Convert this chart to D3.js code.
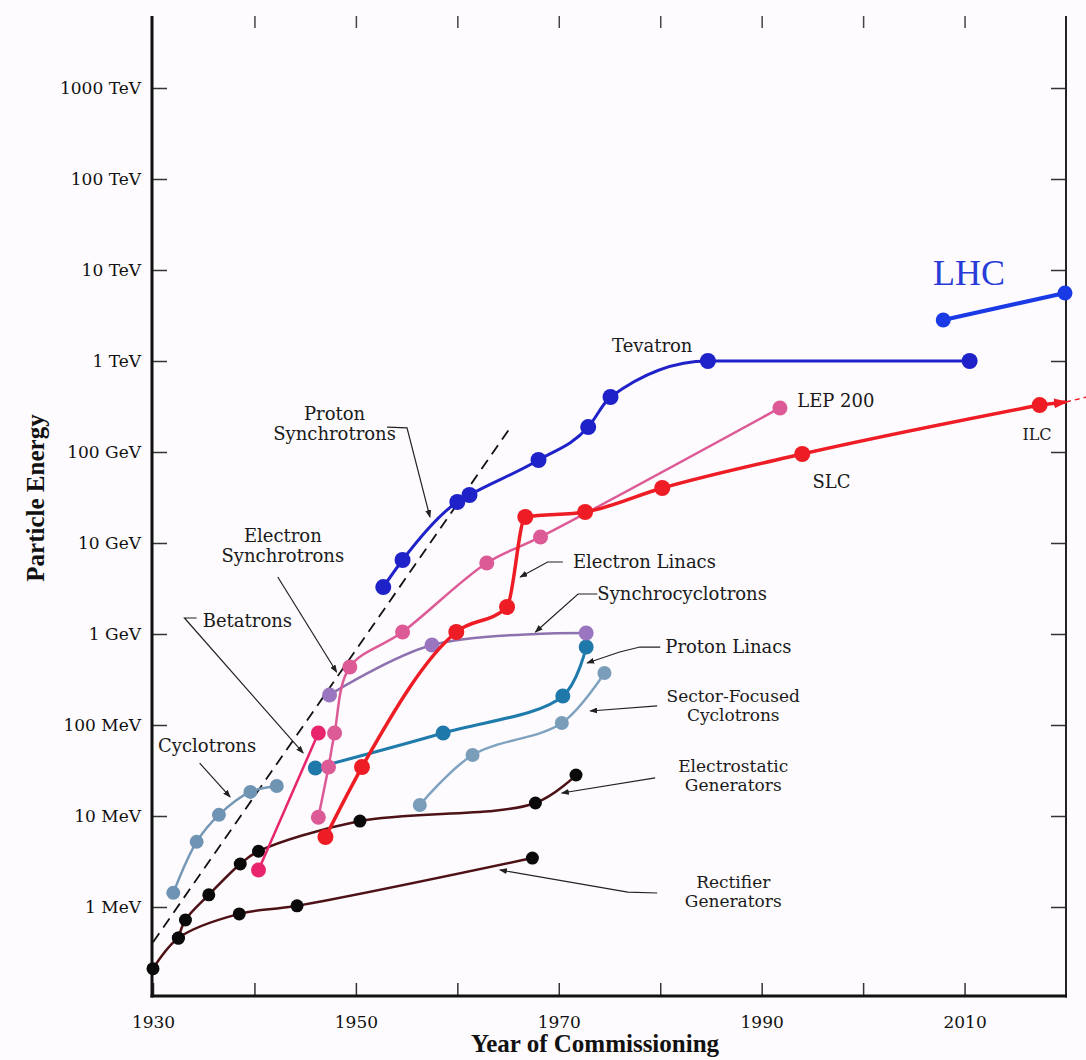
<!DOCTYPE html>
<html>
<head>
<meta charset="utf-8">
<script src="https://cdn.jsdelivr.net/npm/d3@7"></script>
<style>
body { margin: 0; background: #fdfbfd; }
svg { display: block; }
.note { font-family: "DejaVu Serif", serif; fill: #1a1a1a; }
.axisTitle { font-family: "Liberation Serif", serif; font-weight: bold; font-size: 25px; fill: #111; }
</style>
</head>
<body>
<div id="chart"></div>
<script>
// energies in MeV, [year, energy]
var rectifier      = [[1930, 0.21], [1932.5, 0.456], [1938.5, 0.84], [1944.2, 1.03], [1967.4, 3.45]];
var electrostatic  = [[1932.5, 0.456], [1933.2, 0.72], [1935.5, 1.36], [1938.6, 2.97], [1940.4, 4.1], [1950.4, 8.8], [1967.7, 13.9], [1971.7, 28.2]];
var cyclotrons     = [[1932.0, 1.43], [1934.3, 5.2], [1936.5, 10.3], [1939.6, 18.4], [1942.2, 21.4]];
var betatrons      = [[1940.4, 2.55], [1946.3, 81.7]];
var electronSync   = [[1946.3, 9.7], [1947.3, 34.5], [1947.9, 81.7], [1949.4, 434], [1954.6, 1052], [1962.9, 6030], [1968.2, 11650], [1991.8, 3.05e5]];
var synchrocyc     = [[1947.4, 214], [1957.5, 757], [1972.7, 1026]];
var electronLinacs = [[1947.0, 5.88], [1950.6, 34.5], [1959.9, 1052], [1964.9, 1980], [1966.7, 19300], [1972.6, 21900], [1980.2, 40200], [1994.0, 95000], [2017.4, 3.28e5]];
var protonLinacs   = [[1946.0, 33.7], [1958.6, 81.7], [1970.4, 208], [1972.7, 719]];
var sectorCyc      = [[1956.3, 13.2], [1961.5, 46.8], [1970.3, 105], [1974.5, 373]];
var protonSync     = [[1952.7, 3280], [1954.6, 6500], [1960.0, 28200], [1961.2, 33700], [1968.0, 81700], [1972.9, 1.88e5], [1975.1, 4.02e5], [1984.7, 1.0e6], [2010.5, 1.0e6]];
var lhc            = [[2007.9, 2.82e6], [2019.9, 5.59e6]];
var trendLine      = [[1930, 0.41], [1965.2, 1.84e5]];
var ilcExtension   = [[2017.4, 3.28e5], [2020, 3.55e5]];
var ilcBeyond      = [[2020, 3.55e5], [2022, 4.0e5]];

var yTickVals   = [1, 10, 100, 1e3, 1e4, 1e5, 1e6, 1e7, 1e8, 1e9];
var yTickLabels = ["1 MeV", "10 MeV", "100 MeV", "1 GeV", "10 GeV", "100 GeV", "1 TeV", "10 TeV", "100 TeV", "1000 TeV"];
var xTickVals   = [1930, 1940, 1950, 1960, 1970, 1980, 1990, 2000, 2010];
var xLabelVals  = [1930, 1950, 1970, 1990, 2010];

var smoothCurve = d3.curveCatmullRom.alpha(0.5);

// styling of each series
var series = [
    { data: rectifier,      line: "#4e1216", dot: "#0a0a0a", w: 2.5, r: 6.5, curve: smoothCurve },
    { data: electrostatic,  line: "#4e1216", dot: "#0a0a0a", w: 2.5, r: 6.5, curve: smoothCurve },
    { data: cyclotrons,     line: "#7598b6", dot: "#6f93b3", w: 2.5, r: 7, curve: smoothCurve },
    { data: sectorCyc,      line: "#7fa2bf", dot: "#7a9dba", w: 2.5, r: 7, curve: smoothCurve },
    { data: protonLinacs,   line: "#1f7bab", dot: "#1e78aa", w: 3,   r: 7.5, curve: smoothCurve },
    { data: synchrocyc,     line: "#8d72b0", dot: "#9a76c0", w: 2.5, r: 7.5, curve: smoothCurve },
    { data: electronSync,   line: "#dc5a96", dot: "#dc5a96", w: 2.5, r: 7.5, curve: smoothCurve },
    { data: betatrons,      line: "#e8246c", dot: "#e8246c", w: 2.5, r: 7.5, curve: d3.curveLinear },
    { data: electronLinacs, line: "#ee1c24", dot: "#ee1c24", w: 3.5, r: 8, curve: d3.curveMonotoneX },
    { data: protonSync,     line: "#1f22c8", dot: "#1f22c8", w: 3,   r: 8, curve: d3.curveMonotoneX },
    { data: lhc,            line: "#1a3ae6", dot: "#1a3ae6", w: 4,   r: 7.5, curve: d3.curveLinear }
];

// labels + leader lines, anchored in data space
var notes = [
    { lines: ["Cyclotrons"], at: [1930.5, 50.5], anchor: "start", size: 18, lead: [[1934.6, 38.2], [1937.6, 16.2]] },
    { lines: ["Betatrons"], at: [1934.9, 1194], anchor: "start", size: 18, lead: [[1934.3, 1500], [1933.1, 1500], [1944.8, 49.3]] },
    { lines: ["Electron", "Synchrotrons"], at: [1942.8, 10260], anchor: "middle", size: 18, lead: [[1942.3, 4230], [1948.1, 382]] },
    { lines: ["Proton", "Synchrotrons"], at: [1947.9, 2.25e5], anchor: "middle", size: 18, lead: [[1953.07, 1.88e5], [1955.04, 1.84e5], [1957.3, 19300]] },
    { lines: ["Tevatron"], at: [1975.25, 1.26e6], anchor: "start", size: 18 },
    { lines: ["LEP 200"], at: [1993.5, 3.12e5], anchor: "start", size: 18 },
    { lines: ["SLC"], at: [1995.0, 40200], anchor: "start", size: 18 },
    { lines: ["ILC"], at: [2015.7, 1.355e5], anchor: "start", size: 16 },
    { lines: ["Electron Linacs"], at: [1971.4, 5310], anchor: "start", size: 18, lead: [[1970.4, 6180], [1968.9, 6180], [1966.2, 4230]] },
    { lines: ["Synchrocyclotrons"], at: [1973.8, 2365], anchor: "start", size: 18, lead: [[1973.8, 2753], [1971.9, 2753], [1967.7, 1052]] },
    { lines: ["Proton Linacs"], at: [1980.5, 618], anchor: "start", size: 18, lead: [[1980.0, 719], [1978.0, 719], [1976.0, 634], [1972.8, 480]] },
    { lines: ["Sector-Focused", "Cyclotrons"], at: [1987.2, 179], anchor: "middle", size: 17, lead: [[1979.7, 162], [1973.1, 142.5]] },
    { lines: ["Electrostatic", "Generators"], at: [1987.2, 30.4], anchor: "middle", size: 17, lead: [[1979.5, 26.2], [1970.3, 17.9]] },
    { lines: ["Rectifier", "Generators"], at: [1987.2, 1.62], anchor: "middle", size: 17, lead: [[1979.7, 1.425], [1976.8, 1.46], [1964.2, 2.55]] }
];

var W = 1086, H = 1060;
var svg = d3.select("#chart").append("svg")
    .attr("width", W)
    .attr("height", H);

var x = d3.scaleLinear().domain([1930, 2020]).range([153, 1066]);
var y = d3.scaleLog().domain([0.1, 1e9]).range([998, 88]);

var plotTop = 16, plotBottom = 996;

// arrow heads
var defs = svg.append("defs");
defs.append("marker")
    .attr("id", "arr")
    .attr("viewBox", "0 0 8 6")
    .attr("refX", 7).attr("refY", 3)
    .attr("markerWidth", 8).attr("markerHeight", 6)
    .attr("markerUnits", "userSpaceOnUse")
    .attr("orient", "auto")
    .append("path").attr("d", "M0,0L8,3L0,6Z").attr("fill", "#222");
defs.append("marker")
    .attr("id", "redArr")
    .attr("viewBox", "0 0 14 10")
    .attr("refX", 12).attr("refY", 5)
    .attr("markerWidth", 14).attr("markerHeight", 10)
    .attr("markerUnits", "userSpaceOnUse")
    .attr("orient", "auto")
    .append("path").attr("d", "M0,0L14,5L0,10Z").attr("fill", "#ee1c24");

/*********************
 * AXES
 *********************/
var yAxis = d3.axisLeft(y)
    .tickValues(yTickVals)
    .tickFormat(function (d, i) { return yTickLabels[i]; })
    .tickSizeInner(-14)
    .tickSizeOuter(0)
    .tickPadding(12);
var gy = svg.append("g")
    .attr("transform", "translate(" + x(1930) + ",0)")
    .call(yAxis);
gy.select(".domain").remove();
gy.selectAll("line").attr("stroke", "#333").attr("stroke-width", 1.5);
gy.selectAll("text")
    .attr("font-family", "DejaVu Serif, serif")
    .attr("font-size", 17)
    .attr("fill", "#111");

// right side ticks
var gyr = svg.append("g")
    .attr("transform", "translate(" + x(2020) + ",0)")
    .call(d3.axisRight(y).tickValues(yTickVals).tickFormat("").tickSizeInner(-15).tickSizeOuter(0));
gyr.select(".domain").remove();
gyr.selectAll("line").attr("stroke", "#333").attr("stroke-width", 1.5);

var xAxis = d3.axisBottom(x)
    .tickValues(xTickVals)
    .tickFormat(function (d) { return xLabelVals.indexOf(d) >= 0 ? d : ""; })
    .tickSizeInner(-13)
    .tickSizeOuter(0)
    .tickPadding(20);
var gx = svg.append("g")
    .attr("transform", "translate(0," + plotBottom + ")")
    .call(xAxis);
gx.select(".domain").remove();
gx.selectAll("line").attr("stroke", "#333").attr("stroke-width", 1.5);
gx.selectAll("text")
    .attr("font-family", "DejaVu Serif, serif")
    .attr("font-size", 17)
    .attr("fill", "#111");

// top ticks
var gxt = svg.append("g")
    .attr("transform", "translate(0," + plotTop + ")")
    .call(d3.axisTop(x).tickValues(xTickVals.slice(1)).tickFormat("").tickSizeInner(-12).tickSizeOuter(0));
gxt.select(".domain").remove();
gxt.selectAll("line").attr("stroke", "#444").attr("stroke-width", 1.5);

// frame lines
svg.append("line")
    .attr("x1", x(1930) - 1).attr("x2", x(1930) - 1)
    .attr("y1", plotTop).attr("y2", plotBottom + 1.5)
    .attr("stroke", "#111").attr("stroke-width", 3);
svg.append("line")
    .attr("x1", x(2020)).attr("x2", x(2020))
    .attr("y1", plotTop).attr("y2", plotBottom + 1.5)
    .attr("stroke", "#222").attr("stroke-width", 2);
svg.append("line")
    .attr("x1", x(1930) - 2.5).attr("x2", x(2020) + 1)
    .attr("y1", plotBottom).attr("y2", plotBottom)
    .attr("stroke", "#111").attr("stroke-width", 3);

// axis titles
svg.append("text")
    .attr("class", "axisTitle")
    .attr("transform", "translate(44," + 498 + ") rotate(-90)")
    .attr("text-anchor", "middle")
    .text("Particle Energy");
svg.append("text")
    .attr("class", "axisTitle")
    .attr("x", 595).attr("y", 1052)
    .attr("text-anchor", "middle")
    .text("Year of Commissioning");

/*********************
 * DATA
 *********************/
var straight = d3.line()
    .x(function (d) { return x(d[0]); })
    .y(function (d) { return y(d[1]); });

// dashed trend
svg.append("path")
    .attr("d", straight(trendLine))
    .attr("fill", "none")
    .attr("stroke", "#111")
    .attr("stroke-width", 1.8)
    .attr("stroke-dasharray", "11,7");

series.forEach(function (s) {
    var line = d3.line()
        .x(function (d) { return x(d[0]); })
        .y(function (d) { return y(d[1]); })
        .curve(s.curve);
    svg.append("path")
        .attr("d", line(s.data))
        .attr("fill", "none")
        .attr("stroke", s.line)
        .attr("stroke-width", s.w)
        .attr("stroke-linejoin", "round");
    svg.selectAll(null)
        .data(s.data)
        .enter()
        .append("circle")
        .attr("cx", function (d) { return x(d[0]); })
        .attr("cy", function (d) { return y(d[1]); })
        .attr("r", s.r)
        .attr("fill", s.dot);
});

// ILC arrow and dashed continuation
svg.append("path")
    .attr("d", straight(ilcExtension))
    .attr("fill", "none")
    .attr("stroke", "#ee1c24")
    .attr("stroke-width", 3.5)
    .attr("marker-end", "url(#redArr)");
svg.append("path")
    .attr("d", straight(ilcBeyond))
    .attr("fill", "none")
    .attr("stroke", "#ee1c24")
    .attr("stroke-width", 1.5)
    .attr("stroke-dasharray", "5,4");

/*********************
 * ANNOTATIONS
 *********************/
notes.forEach(function (n) {
    if (n.lead) {
        svg.append("path")
            .attr("d", straight(n.lead))
            .attr("fill", "none")
            .attr("stroke", "#222")
            .attr("stroke-width", 1.2)
            .attr("marker-end", "url(#arr)");
    }
    var t = svg.append("text")
        .attr("class", "note")
        .attr("font-size", n.size)
        .attr("text-anchor", n.anchor)
        .attr("x", x(n.at[0]))
        .attr("y", y(n.at[1]));
    n.lines.forEach(function (l, i) {
        t.append("tspan")
            .attr("x", x(n.at[0]))
            .attr("dy", i === 0 ? 0 : n.size * 1.1)
            .text(l);
    });
});

// LHC label
svg.append("text")
    .attr("x", x(2006.9))
    .attr("y", y(6.84e6))
    .attr("font-family", "Liberation Serif, serif")
    .attr("font-size", 36)
    .attr("fill", "#2a3cd8")
    .text("LHC");
</script>
</body>
</html>
